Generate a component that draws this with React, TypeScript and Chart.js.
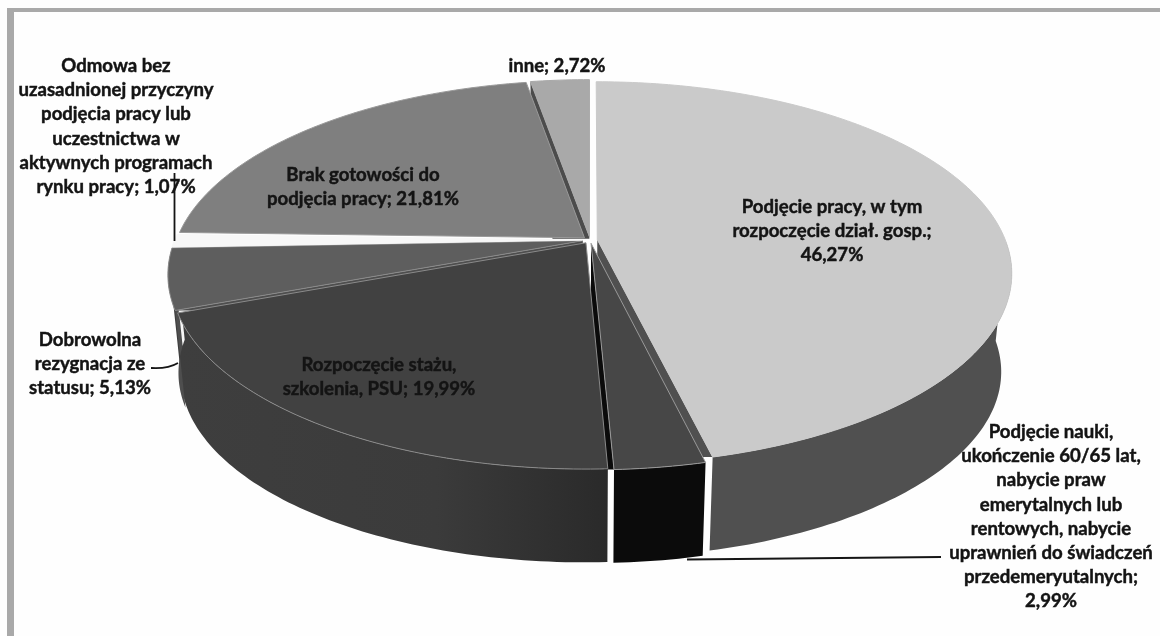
import React, { useEffect, useRef } from "react";
import { Chart, registerables } from "chart.js";

Chart.register(...registerables);

const categories = [
  "Podjęcie pracy, w tym rozpoczęcie dział. gosp.",
  "Podjęcie nauki, ukończenie 60/65 lat, nabycie praw emerytalnych lub rentowych, nabycie uprawnień do świadczeń przedemeryutalnych",
  "Rozpoczęcie stażu, szkolenia, PSU",
  "Dobrowolna rezygnacja ze statusu",
  "Odmowa bez uzasadnionej przyczyny podjęcia pracy lub uczestnictwa w aktywnych programach rynku pracy",
  "Brak gotowości do podjęcia pracy",
  "inne",
];
const values = [46.27, 2.99, 19.99, 5.13, 1.07, 21.81, 2.72];
const topColors = ["#cacaca", "#474747", "#414141", "#5e5e5e", "#f7f7f7", "#7f7f7f", "#a9a9a9"];
const sideColors = ["#505050", "#0b0b0b", "#3c3c3c", "#4e4e4e", "#f7f7f7", "#606060", "#777777"];
const edgeColors = ["#cacaca", "#9a9a9a", "#8a8a8a", "#8a8a8a", "#f7f7f7", "#9a9a9a", "#a9a9a9"];

const labelLines = [
  ["Podjęcie pracy, w tym", "rozpoczęcie dział. gosp.;", "46,27%"],
  ["Podjęcie nauki,", "ukończenie 60/65 lat,", "nabycie praw", "emerytalnych lub", "rentowych, nabycie", "uprawnień do świadczeń", "przedemeryutalnych;", "2,99%"],
  ["Rozpoczęcie stażu,", "szkolenia, PSU; 19,99%"],
  ["Dobrowolna", "rezygnacja ze", "statusu; 5,13%"],
  ["Odmowa bez", "uzasadnionej przyczyny", "podjęcia pracy lub", "uczestnictwa w", "aktywnych programach", "rynku pracy; 1,07%"],
  ["Brak gotowości do", "podjęcia pracy; 21,81%"],
  ["inne; 2,72%"],
];
const labelAnchors = [
  [832, 207], [1051, 432], [379, 365], [90, 340], [116, 66], [363, 175], [557, 66],
];
const LINE_HEIGHT = 24.2;

// Perspective of the disc
const CX = 590, CY = 240, B = 408, A = 185.6, PERSP = 0.175;
const EXPLODE = 0.018, DROP = 99, SHRINK = 0.975;

type Pt = [number, number];
const project = (a: number, r: number, mid: number, bottom = false): Pt => {
  const u = r * Math.cos(a) + EXPLODE * Math.cos(mid);
  const v = r * Math.sin(a) + EXPLODE * Math.sin(mid);
  const den = 1 - PERSP * v;
  const x = CX + (B * u) / den;
  const y = CY + (A * v) / den;
  return bottom ? [CX + (x - CX) * SHRINK, CY + DROP + (y - CY) * SHRINK] : [x, y];
};
const poly = (ctx: CanvasRenderingContext2D, pts: Pt[]) => {
  ctx.beginPath();
  pts.forEach((p, i) => (i ? ctx.lineTo(p[0], p[1]) : ctx.moveTo(p[0], p[1])));
  ctx.closePath();
};
const arcAngles = (s: number, e: number) => {
  const n = Math.max(2, Math.ceil(((e - s) * 180) / Math.PI));
  return Array.from({ length: n + 1 }, (_, i) => s + ((e - s) * i) / n);
};

const pie3d = {
  id: "pie3d",
  beforeDraw(chart: any) {
    const ctx = chart.ctx;
    ctx.save();
    ctx.fillStyle = "#fefefe";
    ctx.fillRect(0, 0, 1160, 636);
    ctx.fillStyle = "#a9a9a9";
    ctx.fillRect(7, 8, 7, 628);
    ctx.fillRect(7, 8, 1153, 4);
    ctx.restore();
  },
  beforeDatasetDraw(chart: any, args: any) {
    const ctx: CanvasRenderingContext2D = chart.ctx;
    const els = chart.getDatasetMeta(args.index).data as any[];
    const slices = els.map((el, i) => {
      const s = el.startAngle as number;
      const e = el.endAngle as number;
      return { i, s, e, mid: (s + e) / 2, opt: el.options };
    });
    ctx.save();
    // outer walls (front part only); the third slice reaches under its neighbour's wall
    slices.forEach(({ i, s, e, mid }) => {
      const angs = arcAngles(s, i === 2 ? e + 0.08 : e).filter((a) => Math.sin(a) >= 0);
      if (angs.length < 2) return;
      const top = angs.map((a) => project(a, 1, mid));
      const bot = angs.map((a) => project(a, 1, mid, true)).reverse();
      poly(ctx, [...top, ...bot]);
      if (i === 2) {
        const g = ctx.createLinearGradient(180, 0, 607, 0);
        g.addColorStop(0, "#3e3e3e");
        g.addColorStop(0.6, "#3b3b3b");
        g.addColorStop(1, "#2a2a2a");
        ctx.fillStyle = g;
      } else {
        ctx.fillStyle = sideColors[i];
      }
      ctx.fill();
    });
    // radial walls seen through the gaps between exploded slices
    const radial: [number, "s" | "e"][] = [[0, "e"], [1, "e"], [3, "s"], [6, "s"]];
    radial.forEach(([i, side]) => {
      const sl = slices[i];
      const a = side === "e" ? sl.e : sl.s;
      const rimT = project(a, 1, sl.mid);
      const rimB = project(a, 1, sl.mid, true);
      const apexT = project(a, 0, sl.mid);
      const apexB = project(a, 0, sl.mid, true);
      ctx.save();
      ctx.beginPath();
      ctx.rect(0, 0, 1160, Math.sin(a) > 0 ? rimT[1] : apexT[1] + 2);
      ctx.clip();
      poly(ctx, [apexT, rimT, rimB, apexB]);
      ctx.fillStyle = i === 6 ? "#4c4c4c" : sideColors[i];
      ctx.fill();
      ctx.restore();
    });
    // top faces
    slices.forEach(({ s, e, mid, opt }) => {
      const pts: Pt[] = [project(s, 0, mid), ...arcAngles(s, e).map((a) => project(a, 1, mid))];
      poly(ctx, pts);
      ctx.fillStyle = opt.backgroundColor;
      ctx.fill();
      ctx.lineWidth = opt.borderWidth;
      ctx.strokeStyle = opt.borderColor;
      ctx.stroke();
    });
    ctx.restore();
    return false;
  },
  afterDraw(chart: any) {
    const ctx: CanvasRenderingContext2D = chart.ctx;
    ctx.save();
    // leader lines
    ctx.strokeStyle = "#151515";
    ctx.lineWidth = 1.8;
    ctx.beginPath();
    ctx.moveTo(174.5, 173);
    ctx.lineTo(174.5, 241);
    ctx.moveTo(151, 368);
    ctx.quadraticCurveTo(168, 369, 178, 363);
    ctx.moveTo(687, 559.5);
    ctx.lineTo(941, 557);
    ctx.stroke();
    // labels
    ctx.fillStyle = "#141414";
    ctx.strokeStyle = "#141414";
    ctx.lineWidth = 0.45;
    ctx.font = "bold 18.6px Lato";
    ctx.textAlign = "center";
    ctx.textBaseline = "middle";
    labelLines.forEach((lines, i) => {
      const [x, y] = labelAnchors[i];
      lines.forEach((line, k) => {
        ctx.fillText(line, x, y + k * LINE_HEIGHT);
        ctx.strokeText(line, x, y + k * LINE_HEIGHT);
      });
    });
    ctx.restore();
  },
};

export default function App() {
  const ref = useRef<HTMLCanvasElement>(null);
  useEffect(() => {
    document.body.style.margin = "0";
    document.body.style.background = "#fefefe";
    const chart = new Chart(ref.current as HTMLCanvasElement, {
      type: "pie",
      data: {
        labels: categories,
        datasets: [
          {
            data: values,
            backgroundColor: topColors,
            borderColor: edgeColors,
            borderWidth: 1,
          },
        ],
      },
      options: {
        animation: false,
        responsive: false,
        events: [],
        plugins: { legend: { display: false }, tooltip: { enabled: false } },
      },
      plugins: [pie3d],
    } as any);
    return () => chart.destroy();
  }, []);
  return (
    <canvas
      ref={ref}
      width={1160}
      height={636}
      style={{ display: "block", width: 1160, height: 636, filter: "blur(0.6px)" }}
    />
  );
}
